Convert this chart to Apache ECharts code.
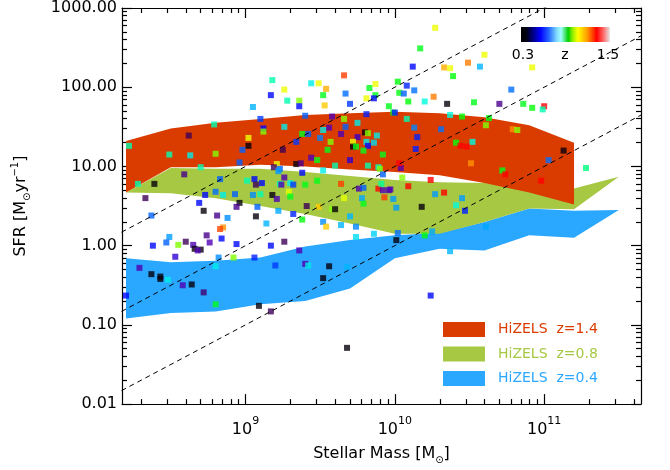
<!DOCTYPE html>
<html><head><meta charset="utf-8">
<script src="https://cdn.jsdelivr.net/npm/echarts@6/dist/echarts.min.js"></script>
<style>html,body{margin:0;padding:0;background:#fff}#c{width:670px;height:470px}</style>
</head><body><div id="c"></div>
<script>
// ---- scatter galaxies: log10 stellar mass, log10 SFR, redshift ----
const logMass = [9.18,9.44,9.49,9.66,9.26,9.83,9.87,9.54,9.17,9.28,9.36,9.52,9.67,9.81,9.87,9.86,9.05,9.36,9.53,9.70,
9.96,9.10,9.40,9.58,9.66,9.81,8.79,9.12,9.12,9.26,9.56,9.67,9.75,8.62,9.38,9.42,9.52,9.64,9.80,9.82,
9.88,9.02,9.50,9.34,9.57,9.75,9.72,9.81,9.86,8.22,9.02,9.82,9.72,9.74,9.25,8.98,9.55,9.79,8.49,8.63,
8.80,9.92,8.96,9.21,9.34,9.37,9.44,9.48,9.70,9.82,9.89,9.90,8.70,9.19,9.23,9.22,9.38,9.52,9.60,9.92,
8.59,8.83,9.26,8.28,8.39,9.01,9.06,9.11,9.07,9.23,9.24,9.30,9.32,9.40,9.48,9.64,9.76,9.79,9.89,9.92,
9.96,9.93,8.33,8.73,8.80,8.85,8.93,9.05,9.10,9.18,9.21,9.29,9.30,9.66,9.78,9.79,8.69,8.96,8.94,9.08,
9.41,9.49,9.58,9.60,8.37,8.72,8.81,8.88,9.07,9.22,9.32,9.38,9.70,9.14,9.52,9.54,9.64,9.74,8.85,8.83,
8.74,8.49,8.84,9.74,9.86,8.38,8.47,8.55,8.60,8.65,8.66,8.70,8.68,8.76,8.94,9.17,9.26,9.36,8.53,8.82,
8.92,9.06,8.29,8.80,9.20,9.40,9.42,9.56,9.68,8.37,8.43,8.43,8.48,8.58,8.64,9.52,8.72,8.20,8.80,9.09,
9.17,9.68,10.27,10.17,10.60,10.49,10.33,10.37,10.57,10.92,10.12,10.39,10.02,10.08,10.03,10.06,10.13,10.78,10.26,10.20,
10.09,10.35,10.53,10.70,10.86,10.92,11.00,10.99,9.99,10.00,10.37,10.45,10.63,10.08,10.13,10.31,10.61,10.79,10.82,10.15,
10.14,10.41,10.52,10.44,10.48,10.04,10.03,10.51,11.13,11.03,11.28,10.72,10.74,10.98,10.05,10.24,9.91,9.97,10.09,9.99,
10.27,10.33,10.45,10.41,10.47,10.18,10.01,10.02,10.01,10.20,10.25,10.61,10.37,10.24];
const logSFR = [2.09,2.05,2.05,2.15,1.97,1.99,2.04,1.98,1.90,1.83,1.83,1.90,1.92,1.86,1.90,1.86,1.75,1.76,1.77,1.79,
1.76,1.60,1.64,1.63,1.60,1.66,1.53,1.48,1.44,1.50,1.49,1.50,1.55,1.39,1.41,1.41,1.46,1.41,1.43,1.42,
1.39,1.36,1.36,1.31,1.31,1.37,1.31,1.31,1.30,1.26,1.26,1.26,1.25,1.25,1.21,1.21,1.21,1.20,1.15,1.14,
1.16,1.15,1.05,1.03,1.03,1.04,1.11,1.08,1.08,1.01,0.99,0.97,0.99,0.99,0.97,0.94,0.92,0.95,1.01,0.90,
0.90,0.84,0.86,0.78,0.78,0.82,0.84,0.79,0.77,0.78,0.77,0.79,0.77,0.77,0.82,0.78,0.72,0.73,0.72,0.70,
0.70,0.61,0.60,0.64,0.68,0.64,0.65,0.64,0.65,0.64,0.59,0.68,0.62,0.60,0.60,0.53,0.54,0.54,0.49,0.49,
0.50,0.49,0.46,0.46,0.38,0.44,0.38,0.35,0.37,0.44,0.40,0.33,0.37,0.28,0.30,0.24,0.26,0.24,0.23,0.21,
0.13,0.11,0.09,0.11,0.15,0.00,0.04,0.01,0.05,0.01,-0.04,-0.05,-0.06,0.04,0.02,0.00,0.05,-0.06,-0.14,-0.15,
-0.15,-0.15,-0.28,-0.26,-0.25,-0.23,-0.25,-0.26,-0.27,-0.36,-0.39,-0.42,-0.43,-0.50,-0.49,-0.41,-0.59,-0.63,-0.74,-0.76,
-0.83,-1.29,2.75,2.49,2.41,2.31,2.25,2.24,2.26,2.25,2.26,2.14,2.07,2.02,1.93,1.92,1.96,1.97,1.88,1.82,
1.82,1.79,1.81,1.79,1.79,1.74,1.76,1.72,1.68,1.68,1.65,1.63,1.61,1.60,1.49,1.47,1.52,1.47,1.46,1.37,
1.22,1.30,1.31,1.26,1.25,0.98,1.04,1.04,1.20,1.08,0.98,0.95,0.90,0.82,0.86,0.83,0.78,0.71,0.75,0.59,
0.65,0.67,0.60,0.51,0.44,0.49,0.48,0.16,0.07,0.13,0.18,0.24,-0.07,-0.63];
const zPhot = [0.86,0.80,1.11,1.28,1.11,0.96,1.11,1.18,0.53,0.86,1.03,0.96,0.62,1.11,0.96,0.53,0.72,0.53,1.16,0.57,
0.96,0.57,0.60,0.45,1.03,0.55,0.86,0.53,1.03,0.80,0.45,0.60,0.80,0.38,0.96,0.60,0.80,0.45,0.31,1.03,
0.80,1.11,0.65,0.57,1.03,0.47,1.11,0.80,0.78,0.86,0.31,0.53,0.31,0.96,0.38,0.60,0.96,0.96,0.86,0.80,
1.03,0.96,0.60,1.11,0.31,0.42,0.45,0.96,0.48,0.86,0.83,1.03,0.86,0.38,0.60,0.68,0.53,0.80,0.86,0.60,
0.42,0.60,0.45,0.86,0.31,0.86,0.53,0.53,0.38,0.86,0.45,0.80,0.57,0.96,0.96,1.28,0.45,0.60,1.35,0.45,
0.45,1.28,0.38,0.53,0.62,0.80,0.60,0.66,0.86,0.31,0.45,1.10,0.96,1.10,0.70,0.96,0.53,0.31,0.42,0.60,
0.38,1.16,1.03,0.31,0.60,0.31,0.42,0.66,0.31,0.70,0.55,0.97,0.72,0.72,0.66,1.16,0.72,0.65,1.20,1.27,
0.42,0.68,0.53,0.78,0.76,0.53,0.60,1.03,0.38,0.45,0.31,0.31,0.45,0.45,0.53,0.53,0.38,0.45,0.48,0.66,
1.03,0.55,0.45,0.80,0.57,0.45,0.80,0.31,0.72,0.31,0.31,0.31,0.80,0.45,0.31,0.31,0.40,0.53,0.96,0.31,
0.38,0.31,1.11,0.96,1.11,1.22,1.18,1.11,0.72,1.11,0.53,0.97,0.97,0.55,0.97,0.60,0.62,0.62,1.22,0.82,
0.97,0.31,0.96,0.42,0.96,0.97,1.35,0.86,0.97,0.55,0.82,0.97,0.97,0.86,0.65,0.62,1.03,1.20,1.03,0.55,
0.55,0.97,0.82,1.35,1.35,0.45,1.35,1.20,0.31,0.62,0.90,0.96,1.35,1.35,1.03,1.35,0.88,0.45,1.35,0.68,
0.68,1.35,0.68,0.82,0.55,0.31,0.68,0.62,0.31,0.97,0.70,0.70,0.72,0.53];

// ---- HiZELS main-sequence bands (log10 values) ----
const bandLogMass = [8.2,8.5,8.8,9.1,9.4,9.7,10.0,10.3,10.6,10.9,11.2,11.5];
const z14Upper = [1.32,1.48,1.55,1.60,1.65,1.67,1.69,1.67,1.62,1.52,1.30];
const z14Lower = [0.67,0.99,0.99,1.02,1.00,0.96,0.93,0.89,0.79,0.67,0.52];
const z08Upper = [0.67,0.98,0.97,0.97,0.93,0.88,0.83,0.80,0.79,0.76,0.72,0.87];
const z08Lower = [0.67,0.66,0.60,0.50,0.40,0.28,0.15,0.15,0.30,0.47,0.46,0.87];
const z04Upper = [-0.16,-0.21,-0.19,-0.15,-0.01,0.07,0.13,0.16,0.30,0.47,0.44,0.45];
const z04Lower = [-0.92,-0.85,-0.83,-0.74,-0.70,-0.54,-0.16,-0.04,-0.06,0.13,0.10,0.45];
const bandNames = ['HiZELS  z=1.4','HiZELS  z=0.8','HiZELS  z=0.4'];

// ---- constant specific-SFR lines (log10 sSFR) and mass ends ----
const sSFRLines = [-8,-9,-10];
const lineLogMassEnds = [8.17,11.65];

// ---- axes ----
const xMin = 1.49e8, xMax = 4.45e11, yMin = 0.01, yMax = 1000;
const xMajorTicks = [1e9,1e10,1e11];
const xMinorTicks = [2e8,3e8,4e8,5e8,6e8,7e8,8e8,9e8,2e9,3e9,4e9,5e9,6e9,7e9,8e9,9e9,
  2e10,3e10,4e10,5e10,6e10,7e10,8e10,9e10,2e11,3e11,4e11];
const yMajorTicks = [0.01,0.1,1,10,100,1000];
const yMinorTicks = [0.02,0.03,0.04,0.05,0.06,0.07,0.08,0.09,0.2,0.3,0.4,0.5,0.6,0.7,0.8,0.9,
  2,3,4,5,6,7,8,9,20,30,40,50,60,70,80,90,200,300,400,500,600,700,800,900];
const zRange = [0.3,1.5];
const zColors = ['#000000','#3c0050','#5000b4','#0000ff','#0060ff','#0098ff','#00c8ff','#00ffdd','#00ff80',
  '#00ff00','#b0ff00','#ffff00','#ff9000','#ff4000','#ff0000','#f08080','#f0f0f0'];

const F = 'DejaVu Sans';
const RED = '#da3c00', GREEN = '#a6c843', BLUE = '#2aa7ff';
const chart = echarts.init(document.getElementById('c'), null, {renderer:'canvas'});

function bandSeries(name, color, upper, lower, z) {
  const data = upper.map((u,i)=>[Math.pow(10,bandLogMass[i]), Math.pow(10,u), Math.pow(10,lower[i])]);
  return {
    type:'custom', name, coordinateSystem:'cartesian2d', xAxisIndex:0, yAxisIndex:0,
    clip:true, silent:true, z, itemStyle:{color}, encode:{x:0, y:[1,2]}, data,
    renderItem:(params, api) => {
      if (params.dataIndex !== 0) return null;
      const top = data.map(d => api.coord([d[0], d[1]]));
      const bot = data.map(d => api.coord([d[0], d[2]])).reverse();
      return {type:'polygon', shape:{points: top.concat(bot)}, style:{fill: color}};
    }
  };
}
const scatterData = logMass.map((m,i)=>[Math.pow(10,m), Math.pow(10,logSFR[i]), zPhot[i]]);
const lineSeries = sSFRLines.map(s => ({
  type:'line', xAxisIndex:0, yAxisIndex:0, silent:true, clip:true, z:6, symbol:'none',
  lineStyle:{color:'#000', width:1, type:[5,4]},
  data: lineLogMassEnds.map(m => [Math.pow(10,m), Math.pow(10,m+s)])
}));

const tickLine = {color:'#000', width:1.2};
function xAx(pos, vals, len, line, labels) {
  const a = {type:'log', min:xMin, max:xMax, position:pos, splitLine:{show:false},
    axisLine:{show:line, onZero:false, lineStyle:tickLine},
    axisTick:{show:true, inside:true, length:len, customValues:vals, lineStyle:tickLine},
    axisLabel:{show:false}};
  if (labels) {
    a.axisLabel = {show:true, customValues:xMajorTicks, margin:12,
      formatter: v => '{b|10}{s|' + Math.round(Math.log10(v)) + '}',
      rich:{b:{fontFamily:F, fontSize:16, color:'#000', lineHeight:22, verticalAlign:'bottom'},
            s:{fontFamily:F, fontSize:11, color:'#000', lineHeight:22, verticalAlign:'top'}}};
    a.name = 'Stellar Mass [M{sub|⊙}]';
    a.nameLocation = 'middle'; a.nameGap = 32;
    a.nameTextStyle = {fontFamily:F, fontSize:16, color:'#000', lineHeight:22,
      rich:{sub:{fontFamily:F, fontSize:10, color:'#000', verticalAlign:'bottom', lineHeight:18}}};
  }
  return a;
}
function yAx(pos, vals, len, line, labels) {
  const a = {type:'log', min:yMin, max:yMax, position:pos, splitLine:{show:false},
    axisLine:{show:line, onZero:false, lineStyle:tickLine},
    axisTick:{show:true, inside:true, length:len, customValues:vals, lineStyle:tickLine},
    axisLabel:{show:false}};
  if (labels) {
    a.axisLabel = {show:true, customValues:yMajorTicks, margin:5, fontFamily:F, fontSize:16, color:'#000',
      formatter: v => v.toFixed(2)};
    a.name = 'SFR [M{sub|⊙}yr{sup|−1}]';
    a.nameLocation = 'middle'; a.nameGap = 90; a.nameRotate = 90;
    a.nameTextStyle = {fontFamily:F, fontSize:16, color:'#000', lineHeight:22,
      rich:{sub:{fontFamily:F, fontSize:10, color:'#000', verticalAlign:'bottom'},
            sup:{fontFamily:F, fontSize:10, color:'#000', verticalAlign:'top'}}};
  }
  return a;
}

const barStops = [[0,'#000000'],[0.06,'#000010'],[0.14,'#00008c'],[0.22,'#0000ff'],[0.32,'#2a70ff'],
  [0.40,'#80d8ff'],[0.45,'#a0ffff'],[0.50,'#40e060'],[0.53,'#00d000'],[0.58,'#90f000'],[0.64,'#ffff00'],
  [0.74,'#ffa000'],[0.85,'#ff0000'],[0.92,'#ff6060'],[1,'#e8e8e8']].map(s=>({offset:s[0], color:s[1]}));

chart.setOption({
  animation:false,
  textStyle:{fontFamily:F},
  grid:{left:122, right:29, top:3, bottom:59, containLabel:false},
  xAxis:[xAx('bottom', xMajorTicks, 10, true, true), xAx('top', xMajorTicks, 10, true, false),
         xAx('bottom', xMinorTicks, 5, false, false), xAx('top', xMinorTicks, 5, false, false)],
  yAxis:[yAx('left', yMajorTicks, 10, true, true), yAx('right', yMajorTicks, 10, true, false),
         yAx('left', yMinorTicks, 5, false, false), yAx('right', yMinorTicks, 5, false, false)],
  visualMap:{type:'continuous', show:false, min:zRange[0], max:zRange[1], dimension:2, seriesIndex:3,
    inRange:{color:zColors}},
  legend:{orient:'vertical', left:443, top:322, padding:0, itemWidth:42, itemHeight:15, itemGap:9.5,
    icon:'rect', selectedMode:false,
    textStyle:{fontFamily:F, fontSize:14, padding:[0,0,0,8]},
    data:[{name:bandNames[0], textStyle:{color:RED}},{name:bandNames[1], textStyle:{color:GREEN}},
          {name:bandNames[2], textStyle:{color:BLUE}}]},
  graphic:[
    {type:'rect', shape:{x:521, y:27, width:89, height:15},
     style:{fill:new echarts.graphic.LinearGradient(0,0,1,0,barStops)}, z:10},
    {type:'text', x:523, y:55, z:10, style:{text:'0.3', font:'14px "DejaVu Sans"', fill:'#000', align:'center', verticalAlign:'middle'}},
    {type:'text', x:565, y:55, z:10, style:{text:'z', font:'14px "DejaVu Sans"', fill:'#000', align:'center', verticalAlign:'middle'}},
    {type:'text', x:608, y:55, z:10, style:{text:'1.5', font:'14px "DejaVu Sans"', fill:'#000', align:'center', verticalAlign:'middle'}}
  ],
  series:[
    bandSeries(bandNames[2], BLUE, z04Upper, z04Lower, 2),
    bandSeries(bandNames[1], GREEN, z08Upper, z08Lower, 3),
    bandSeries(bandNames[0], RED, z14Upper, z14Lower, 4),
    {type:'scatter', xAxisIndex:0, yAxisIndex:0, symbol:'rect', symbolSize:6, z:5, silent:true,
     data:scatterData},
    ...lineSeries
  ]
});
</script></body></html>
